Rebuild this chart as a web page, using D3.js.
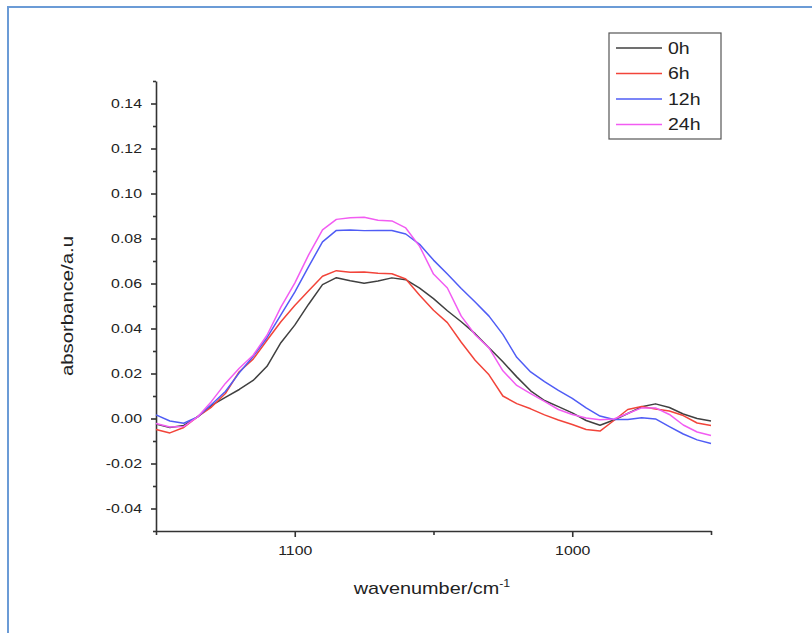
<!DOCTYPE html>
<html>
<head>
<meta charset="utf-8">
<script src="https://cdn.jsdelivr.net/npm/d3@7"></script>
<style>
  html, body { margin: 0; padding: 0; background: #fff; }
  svg { display: block; font-family: "Liberation Sans", Arial, sans-serif; }
</style>
</head>
<body>
<svg id="chart" width="812" height="633"></svg>
<script>
// Wavenumbers (cm^-1), sampled every 5 cm^-1 from 1150 down to 950
const wavenumbers = d3.range(1150, 949, -5);

// Absorbance spectra after each exposure time
const abs0h = [-0.0025, -0.0040, -0.0031, 0.0007, 0.0058, 0.0094, 0.0129, 0.0169, 0.0232, 0.0337,
  0.0415, 0.0508, 0.0595, 0.0626, 0.0612, 0.0601, 0.0611, 0.0625, 0.0617, 0.0579,
  0.0533, 0.0479, 0.0430, 0.0377, 0.0314, 0.0252, 0.0185, 0.0123, 0.0080, 0.0053,
  0.0025, -0.0009, -0.0030, -0.0007, 0.0022, 0.0052, 0.0065, 0.0049, 0.0020, 0.0000, -0.0011];
const abs6h = [-0.0049, -0.0064, -0.0040, 0.0008, 0.0051, 0.0111, 0.0208, 0.0264, 0.0348, 0.0430,
  0.0502, 0.0568, 0.0632, 0.0657, 0.0650, 0.0651, 0.0646, 0.0643, 0.0620, 0.0548,
  0.0481, 0.0426, 0.0339, 0.0259, 0.0194, 0.0100, 0.0066, 0.0043, 0.0016, -0.0007,
  -0.0027, -0.0049, -0.0056, -0.0009, 0.0040, 0.0053, 0.0042, 0.0033, 0.0013, -0.0020, -0.0031];
const abs12h = [0.0016, -0.0011, -0.0021, 0.0007, 0.0062, 0.0120, 0.0203, 0.0276, 0.0359, 0.0461,
  0.0562, 0.0675, 0.0785, 0.0836, 0.0838, 0.0835, 0.0836, 0.0836, 0.0820, 0.0774,
  0.0704, 0.0642, 0.0578, 0.0518, 0.0455, 0.0374, 0.0272, 0.0207, 0.0164, 0.0125,
  0.0089, 0.0047, 0.0011, -0.0004, -0.0004, 0.0003, -0.0002, -0.0036, -0.0069, -0.0095, -0.0111];
const abs24h = [-0.0022, -0.0038, -0.0036, 0.0007, 0.0076, 0.0156, 0.0223, 0.0281, 0.0370, 0.0495,
  0.0602, 0.0727, 0.0838, 0.0885, 0.0892, 0.0894, 0.0881, 0.0878, 0.0847, 0.0765,
  0.0642, 0.0580, 0.0455, 0.0372, 0.0314, 0.0212, 0.0147, 0.0111, 0.0076, 0.0040,
  0.0018, 0.0002, -0.0006, -0.0002, 0.0022, 0.0047, 0.0047, 0.0018, -0.0029, -0.0060, -0.0076];

const seriesNames = ["0h", "6h", "12h", "24h"];
const seriesColors = ["#404040", "#f2443a", "#4f5cf5", "#f25cf2"];
const seriesValues = [abs0h, abs6h, abs12h, abs24h];

const xMajorTicks = [1100, 1000];
const xMinorTicks = [1150, 1050, 950];
const yMajorTicks = [-0.04, -0.02, 0.00, 0.02, 0.04, 0.06, 0.08, 0.10, 0.12, 0.14];
const yMinorTicks = [-0.05, -0.03, -0.01, 0.01, 0.03, 0.05, 0.07, 0.09, 0.11, 0.13, 0.15];

const svg = d3.select("#chart");

// Widen a text element horizontally about its own anchor point
function widen(sel, k) {
  sel.each(function () {
    const t = d3.select(this);
    const ax = +t.attr("x") || 0, ay = +t.attr("y") || 0;
    const prev = t.attr("transform") || "";
    t.attr("x", 0).attr("y", 0)
      .attr("transform", `${prev} translate(${ax},${ay}) scale(${k},1)`);
  });
}

// Outer page frame
svg.append("rect")
  .attr("x", 8).attr("y", 7).attr("width", 900).attr("height", 900)
  .attr("fill", "none").attr("stroke", "#6b9bd6").attr("stroke-width", 2);

const plot = { left: 156, right: 711, top: 81, bottom: 531 };

const x = d3.scaleLinear().domain([1150, 950]).range([plot.left, plot.right]);
const y = d3.scaleLinear().domain([-0.05, 0.15]).range([plot.bottom, plot.top]);

const axisColor = "#333";
// Plain hyphen for negative tick labels
const fmtY = d => d.toFixed(2).replace("-0.00", "0.00");

// Y axis: labelled major ticks plus minor ticks
svg.append("g").attr("class", "axis").attr("transform", `translate(${plot.left},0)`)
  .call(d3.axisLeft(y).tickValues(yMajorTicks).tickSize(5).tickPadding(9)
    .tickFormat(fmtY).tickSizeOuter(0));
svg.append("g").attr("transform", `translate(${plot.left},0)`)
  .call(d3.axisLeft(y).tickValues(yMinorTicks).tickSize(3).tickFormat("").tickSizeOuter(0))
  .select(".domain").remove();

// X axis
svg.append("g").attr("class", "axis").attr("transform", `translate(0,${plot.bottom})`)
  .call(d3.axisBottom(x).tickValues(xMajorTicks).tickSize(6).tickPadding(9)
    .tickFormat(d3.format("d")).tickSizeOuter(0));
svg.append("g").attr("transform", `translate(0,${plot.bottom})`)
  .call(d3.axisBottom(x).tickValues(xMinorTicks).tickSize(4).tickFormat("").tickSizeOuter(0))
  .select(".domain").remove();

svg.selectAll(".domain, .tick line")
  .attr("stroke", axisColor).attr("stroke-width", 1.6);
svg.selectAll(".tick text")
  .attr("fill", "#222").style("font-size", "13px")
  .style("font-family", "'Liberation Sans', Arial, sans-serif")
  .call(widen, 1.22);

// Axis titles
svg.append("text")
  .attr("transform", `translate(73,${(plot.top + plot.bottom) / 2}) rotate(-90) scale(1.27,1)`)
  .attr("text-anchor", "middle").attr("fill", "#222").style("font-size", "16px")
  .text("absorbance/a.u");

const xt = svg.append("text")
  .attr("transform", "translate(432,594) scale(1.24,1)")
  .attr("text-anchor", "middle").attr("fill", "#222").style("font-size", "16px");
xt.append("tspan").text("wavenumber/cm");
xt.append("tspan").attr("dy", -7).style("font-size", "10px").text("-1");

// Spectra
const line = d3.line()
  .x((d, i) => x(wavenumbers[i]))
  .y(d => y(d));

seriesValues.forEach((vals, k) => {
  svg.append("path")
    .datum(vals)
    .attr("d", line)
    .attr("fill", "none")
    .attr("stroke", seriesColors[k])
    .attr("stroke-width", 1.5)
    .attr("stroke-linejoin", "round");
});

// Legend
const legend = svg.append("g");
legend.append("rect")
  .attr("x", 609).attr("y", 33).attr("width", 112).attr("height", 106)
  .attr("fill", "#fff").attr("stroke", "#555").attr("stroke-width", 1.2);
seriesNames.forEach((name, k) => {
  const ly = 48 + k * 25.5;
  legend.append("line")
    .attr("x1", 616).attr("x2", 662).attr("y1", ly).attr("y2", ly)
    .attr("stroke", seriesColors[k]).attr("stroke-width", 1.5);
  legend.append("text")
    .attr("x", 668).attr("y", ly).attr("dy", "0.36em")
    .attr("fill", "#222").style("font-size", "16px")
    .text(name)
    .call(widen, 1.22);
});
</script>
</body>
</html>
